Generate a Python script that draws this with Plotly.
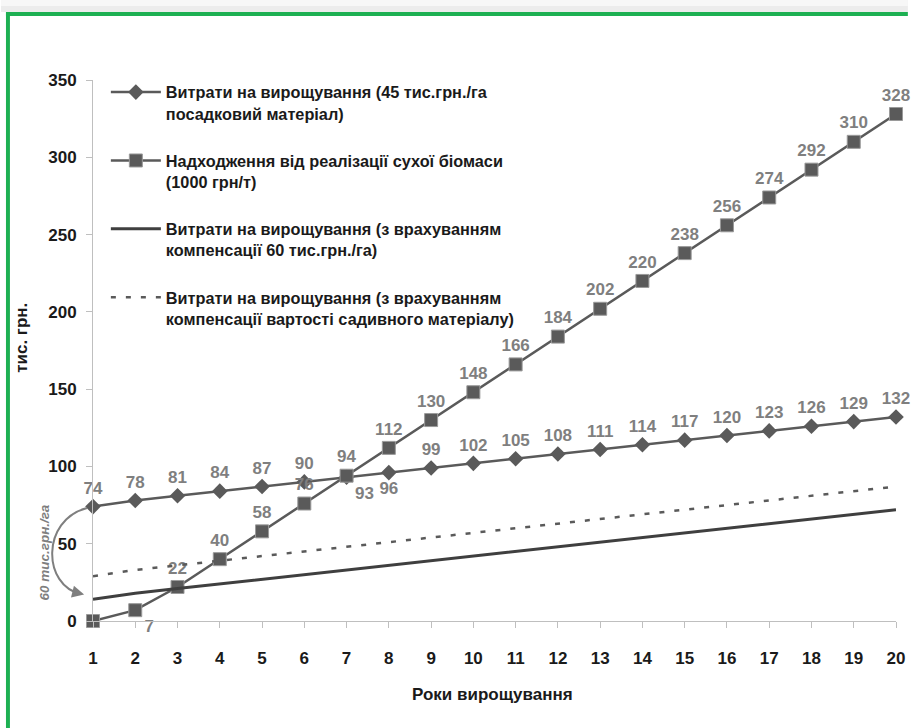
import plotly.graph_objects as go

years = list(range(1, 21))

cost_planting = [74, 78, 81, 84, 87, 90, 93, 96, 99, 102, 105, 108, 111, 114, 117, 120, 123, 126, 129, 132]
revenue_biomass = [0, 7, 22, 40, 58, 76, 94, 112, 130, 148, 166, 184, 202, 220, 238, 256, 274, 292, 310, 328]
cost_comp_60 = [14, 18, 21, 24, 27, 30, 33, 36, 39, 42, 45, 48, 51, 54, 57, 60, 63, 66, 69, 72]
cost_comp_material = [29, 33, 36, 39, 42, 45, 48, 51, 54, 57, 60, 63, 66, 69, 72, 75, 78, 81, 84, 87]

names = [
    "Витрати на вирощування (45 тис.грн./га<br>посадковий матеріал)",
    "Надходження від реалізації сухої біомаси<br>(1000 грн/т)",
    "Витрати на вирощування (з врахуванням<br>компенсації 60 тис.грн./га)",
    "Витрати на вирощування (з врахуванням<br>компенсації вартості садивного матеріалу)",
]
y_ticks = [0, 50, 100, 150, 200, 250, 300, 350]

W, H = 917, 728
ML, MR, MT, MB = 93, 12, 80, 107
PW, PH = W - ML - MR, H - MT - MB


def px(x):
    return (x - ML) / PW


def py(y):
    return (H - MB - y) / PH


FONT = "Liberation Sans, Arial, sans-serif"
LINE = "#5a5a5a"
LABEL = "#7f7f7f"
INK = "#1a1a1a"

# label placement for each point
pos_cost = ["top center"] * 20
pos_cost[6] = "bottom right"
pos_cost[7] = "bottom center"
pos_rev = ["top center"] * 20
pos_rev[1] = "bottom right"
rev_text = [str(v) for v in revenue_biomass]
rev_text[0] = ""

label_font = dict(family=FONT, size=17, color=LABEL, weight="bold")

fig = go.Figure()
fig.add_trace(go.Scatter(
    x=years, y=cost_planting, name=names[0], legendgroup="a", mode="lines+markers+text",
    line=dict(color=LINE, width=2.5),
    marker=dict(symbol="diamond", size=12, color=LINE),
    text=[str(v) for v in cost_planting], textposition=pos_cost, textfont=label_font,
    cliponaxis=False,
))
fig.add_trace(go.Scatter(
    x=years, y=revenue_biomass, name=names[1], legendgroup="b", mode="lines+markers+text",
    line=dict(color=LINE, width=2.5),
    marker=dict(symbol="square", size=13, color=LINE, line=dict(color="#9a9a9a", width=1)),
    text=rev_text, textposition=pos_rev, textfont=label_font,
    cliponaxis=False,
))
fig.add_trace(go.Scatter(
    x=years, y=cost_comp_60, name=names[2], legendgroup="c", mode="lines",
    line=dict(color="#3f3f3f", width=3),
    cliponaxis=False,
))
fig.add_trace(go.Scatter(
    x=years, y=cost_comp_material, name=names[3], legendgroup="d", mode="lines",
    line=dict(color=LINE, width=2.5, dash="5px,10px"),
    cliponaxis=False,
))

shapes = [
    # frame: top shadow and green border
    dict(type="rect", xref="paper", yref="paper", x0=px(0), x1=px(W), y0=py(12), y1=py(0),
         fillcolor="#ececec", line=dict(width=0), layer="below"),
    dict(type="rect", xref="paper", yref="paper", x0=px(0), x1=px(W), y0=py(6), y1=py(0),
         fillcolor="#f7f7f7", line=dict(width=0), layer="below"),
    dict(type="rect", xref="paper", yref="paper", x0=px(5), x1=px(W), y0=py(16), y1=py(12),
         fillcolor="#1db052", line=dict(width=0)),
    dict(type="rect", xref="paper", yref="paper", x0=px(5), x1=px(9), y0=py(H), y1=py(12),
         fillcolor="#1db052", line=dict(width=0)),
    # curved compensation arrow
    dict(type="path", xref="paper", yref="paper",
         path=f"M {px(87)},{py(508)} C {px(40)},{py(520)} {px(42)},{py(586)} {px(81)},{py(594)}",
         line=dict(color="#7f7f7f", width=2)),
]

annotations = [
    dict(xref="paper", yref="paper", x=px(84), y=py(594.5), ax=-12, ay=-3,
         text="", showarrow=True, arrowhead=2, arrowsize=1.2, arrowwidth=2, arrowcolor="#7f7f7f"),
    dict(xref="paper", yref="paper", x=px(43), y=py(553), xanchor="center", yanchor="middle",
         text="60 тис.грн./га", showarrow=False, textangle=-90,
         font=dict(family=FONT, size=13.5, color="#7f7f7f", style="italic", weight="bold")),
    dict(xref="paper", yref="paper", x=px(20), y=py(338), xanchor="center", yanchor="middle",
         text="тис. грн.", showarrow=False, textangle=-90,
         font=dict(family=FONT, size=17, color=INK, weight="bold")),
    dict(xref="paper", yref="paper", x=px(497), y=py(694), xanchor="center", yanchor="middle",
         text="Роки вирощування", showarrow=False,
         font=dict(family=FONT, size=17, color=INK, weight="bold")),
]

fig.update_layout(
    width=W, height=H,
    margin=dict(l=ML, r=MR, t=MT, b=MB),
    paper_bgcolor="white", plot_bgcolor="white",
    showlegend=True,
    legend=dict(
        x=px(106), y=py(75), xanchor="left", yanchor="top",
        bgcolor="rgba(0,0,0,0)", font=dict(family=FONT, size=16.3, color=INK, weight="bold"),
        itemwidth=50, valign="top", traceorder="grouped", tracegroupgap=23,
    ),
    xaxis=dict(
        range=[1, 20], tickvals=years, showgrid=False, zeroline=False,
        showline=True, linecolor="#bfbfbf", linewidth=1,
        ticks="outside", ticklen=6, tickcolor="#bfbfbf",
        tickfont=dict(family=FONT, size=17, color=INK, weight="bold"),
        ticklabelstandoff=16,
    ),
    yaxis=dict(
        range=[0, 350], tickvals=y_ticks, showgrid=False, zeroline=False,
        showline=True, linecolor="#bfbfbf", linewidth=1,
        ticks="outside", ticklen=6, tickcolor="#bfbfbf",
        tickfont=dict(family=FONT, size=17, color=INK, weight="bold"),
        ticklabelstandoff=6,
    ),
    shapes=shapes,
    annotations=annotations,
)

fig.write_html("out.html")
